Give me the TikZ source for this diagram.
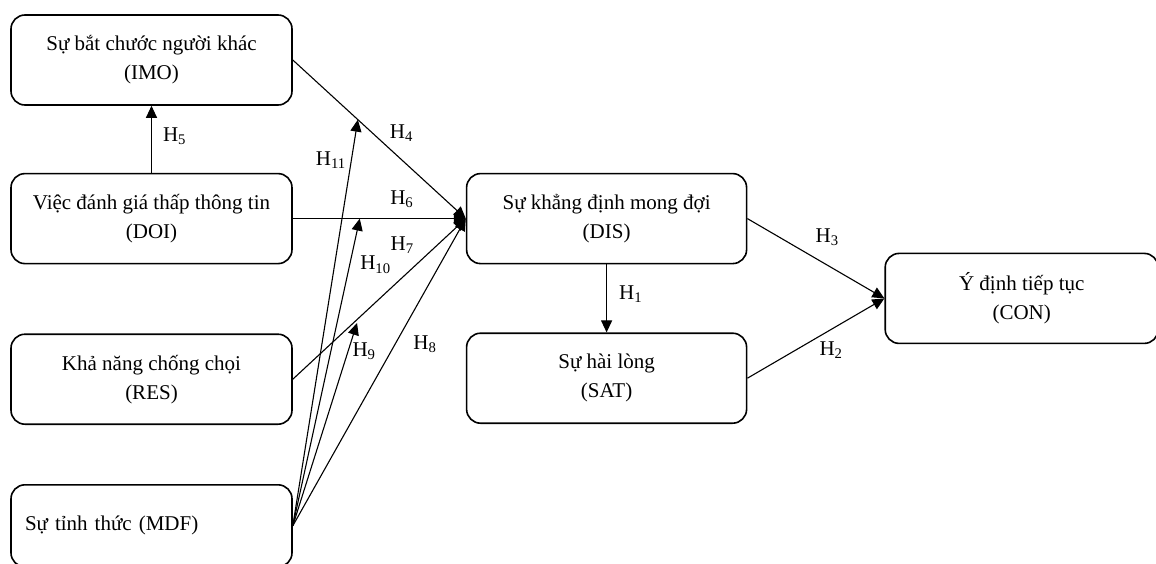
\documentclass[tikz,border=0pt]{standalone}
\usepackage{fontspec}
\setmainfont{Liberation Serif}
\usetikzlibrary{positioning,calc,arrows.meta}

\begin{document}
\begin{tikzpicture}[x=1pt,y=-1pt,>={Triangle[length=12pt,width=11pt]}]
\tikzstyle{B}=[draw,line width=1.6pt,rounded corners=14pt,minimum width=281pt,minimum height=90pt,align=center,inner sep=2pt,font=\fontsize{21}{29}\selectfont]
\tikzstyle{L}=[inner sep=1pt,font=\fontsize{21}{25}\selectfont]
\tikzstyle{A}=[->,line width=1.1pt]
\useasboundingbox (0,0) rectangle (1156,563);
% left column
\node[B] (imo) at (151.5,60) {Sự bắt chước người khác\\(IMO)};
\node[B,below=67pt of imo] (doi) {Việc đánh giá thấp thông tin\\(DOI)};
\node[B,below=69pt of doi] (res) {Khả năng chống chọi\\(RES)};
\node[B,below=59pt of res,minimum height=82pt,align=left,text width=253pt,inner xsep=14pt] (mdf) {Sự tỉnh thức (MDF)};
% middle and right
\node[B,minimum width=280pt,right=173pt of doi] (dis) {Sự khẳng định mong đợi\\(DIS)};
\node[B,minimum width=280pt,below=68pt of dis] (sat) {Sự hài lòng\\(SAT)};
\coordinate (m) at ($(dis.east)!0.5!(sat.east)$);
\node[B,minimum width=273pt,right=137pt of m] (con) {Ý định tiếp tục\\(CON)};
% paths
\draw[A] (doi.north) -- node[L,pos=0.55,right=10pt] {H\textsubscript{5}} (imo.south);
\draw[A] (imo.east) -- node[L,pos=0.54,above right=3pt] {H\textsubscript{4}} coordinate[pos=0.376] (t11) (dis.west);
\draw[A] (doi.east) -- node[L,pos=0.63,above=9pt] {H\textsubscript{6}} coordinate[pos=0.387] (t10) (dis.west);
\draw[A] (res.east) -- node[L,pos=0.74,above left=8pt] {H\textsubscript{7}} coordinate[pos=0.38] (t9) (dis.west);
\draw[A] (mdf.east) -- node[L,pos=0.59,right=17pt] {H\textsubscript{8}} (dis.west);
\draw[A,shorten >=5pt] (mdf.east) -- node[L,pos=0.84,right=3pt] {H\textsubscript{9}} (t9);
\draw[A] (mdf.east) -- node[L,pos=0.85,right=9pt] {H\textsubscript{10}} (t10);
\draw[A] (mdf.east) -- node[L,pos=0.9,left=4pt] {H\textsubscript{11}} (t11);
\draw[A] (dis.south) -- node[L,pos=0.44,right=11pt] {H\textsubscript{1}} (sat.north);
\draw[A] (dis.east) -- node[L,pos=0.44,above right=9pt] {H\textsubscript{3}} (con.west);
\draw[A] (sat.east) -- node[L,pos=0.5,below right=3pt] {H\textsubscript{2}} (con.west);
\end{tikzpicture}
\end{document}
